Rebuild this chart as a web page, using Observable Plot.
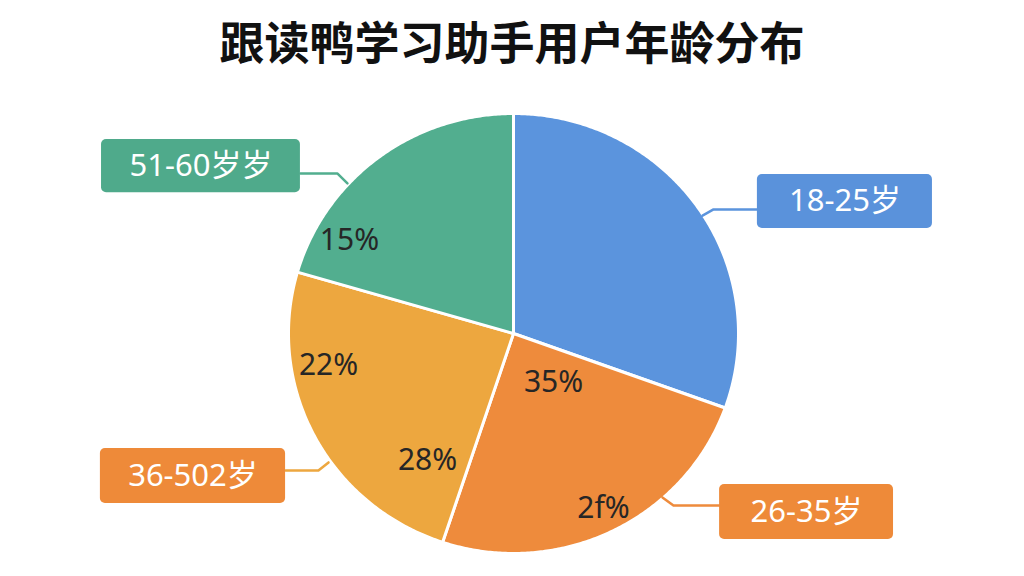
<!DOCTYPE html>
<html>
<head>
<meta charset="utf-8">
<script src="https://cdn.jsdelivr.net/npm/d3@7"></script>
<script src="https://cdn.jsdelivr.net/npm/@observablehq/plot@0.6"></script>
<style>
  html, body { margin: 0; padding: 0; background: #fff; }
  #title { width: 1024px; height: 84px; line-height: 82px; text-align: center;
    font-family: "Noto Sans CJK SC", "Noto Sans", sans-serif; font-weight: 700; font-size: 45px; color: #111; }
  #chart svg { display: block; }
</style>
</head>
<body>
<div id="title">跟读鸭学习助手用户年龄分布</div>
<div id="chart"></div>
<script>
// ---- data ----
const categories = ["18-25岁", "26-35岁", "36-502岁", "51-60岁岁"];
const shares = [30.5, 24.6, 24.4, 20.5];
const pctLabels = ["35%", "2f%", "28%", "22%", "15%"];
const pctSlices = ["26-35岁", "26-35岁", "36-502岁", "36-502岁", "51-60岁岁"];

// ---- styles ----
const sliceColors = ["#5B94DD", "#EE8B3C", "#EDA73F", "#52AE8F"];
const boxColors = ["#5A92DB", "#EE8A39", "#EE8A39", "#4FAA8B"];

// ---- layout (in pie-radius units, centre = 0,0) ----
const pctPos = [[0.178, -0.220], [0.40, -0.795], [-0.382, -0.577], [-0.822, -0.145], [-0.729, 0.423]];
const boxPos = [ // x1, x2, y1, y2
  [1.084, 1.862, 0.477, 0.723],
  [0.916, 1.689, -0.936, -0.686],
  [-1.836, -1.013, -0.773, -0.523],
  [-1.831, -0.947, 0.640, 0.882]
];
const leaderPos = [
  [[1.084, 0.564], [0.889, 0.564], [0.840, 0.536]],
  [[0.916, -0.782], [0.711, -0.782], [0.662, -0.745]],
  [[-1.013, -0.623], [-0.867, -0.623], [-0.822, -0.586]],
  [[-0.947, 0.727], [-0.782, 0.727], [-0.738, 0.682]]
];

// ---- build tables ----
const total = d3.sum(shares);
const slicePts = [];
let acc = 0;
categories.forEach((c, i) => {
  const a0 = acc / total * 2 * Math.PI;
  acc += shares[i];
  const a1 = acc / total * 2 * Math.PI;
  const n = Math.max(2, Math.ceil((a1 - a0) / (Math.PI / 360)));
  slicePts.push({cat: c, color: sliceColors[i], x: 0, y: 0});
  for (let k = 0; k <= n; k++) {
    const a = a0 + (a1 - a0) * k / n;
    slicePts.push({cat: c, color: sliceColors[i], x: Math.sin(a), y: Math.cos(a)});
  }
  slicePts.push({cat: c, color: sliceColors[i], x: 0, y: 0});
});

const boxes = categories.map((c, i) => ({
  cat: c, color: boxColors[i],
  x1: boxPos[i][0], x2: boxPos[i][1], y1: boxPos[i][2], y2: boxPos[i][3],
  tx: (boxPos[i][0] + boxPos[i][1]) / 2, ty: (boxPos[i][2] + boxPos[i][3]) / 2
}));

const leaders = [];
categories.forEach((c, i) => leaderPos[i].forEach(p => leaders.push({cat: c, color: sliceColors[i], x: p[0], y: p[1]})));

const pcts = pctLabels.map((t, i) => ({text: t, slice: pctSlices[i], x: pctPos[i][0], y: pctPos[i][1]}));

const chart = Plot.plot({
  width: 1024,
  height: 492,
  margin: 0,
  x: {domain: [-1, 1], range: [288, 738], axis: null},
  y: {domain: [-1, 1], range: [469, 29], axis: null},
  color: {type: "identity"},
  style: {fontFamily: "'Noto Sans', 'Noto Sans CJK SC', sans-serif", background: "white"},
  marks: [
    Plot.line(slicePts, {x: "x", y: "y", z: "cat", fill: "color", stroke: "white", strokeWidth: 3, strokeLinejoin: "round", curve: "linear"}),
    Plot.line(leaders, {x: "x", y: "y", z: "cat", stroke: "color", strokeWidth: 2.5}),
    Plot.rect(boxes, {x1: "x1", x2: "x2", y1: "y1", y2: "y2", fill: "color", rx: 5}),
    Plot.text(boxes, {x: "tx", y: "ty", text: "cat", fill: "white", fontSize: 31}),
    Plot.text(pcts, {x: "x", y: "y", text: "text", fill: "#262626", fontSize: 30})
  ]
});
document.getElementById("chart").appendChild(chart);
</script>
</body>
</html>
